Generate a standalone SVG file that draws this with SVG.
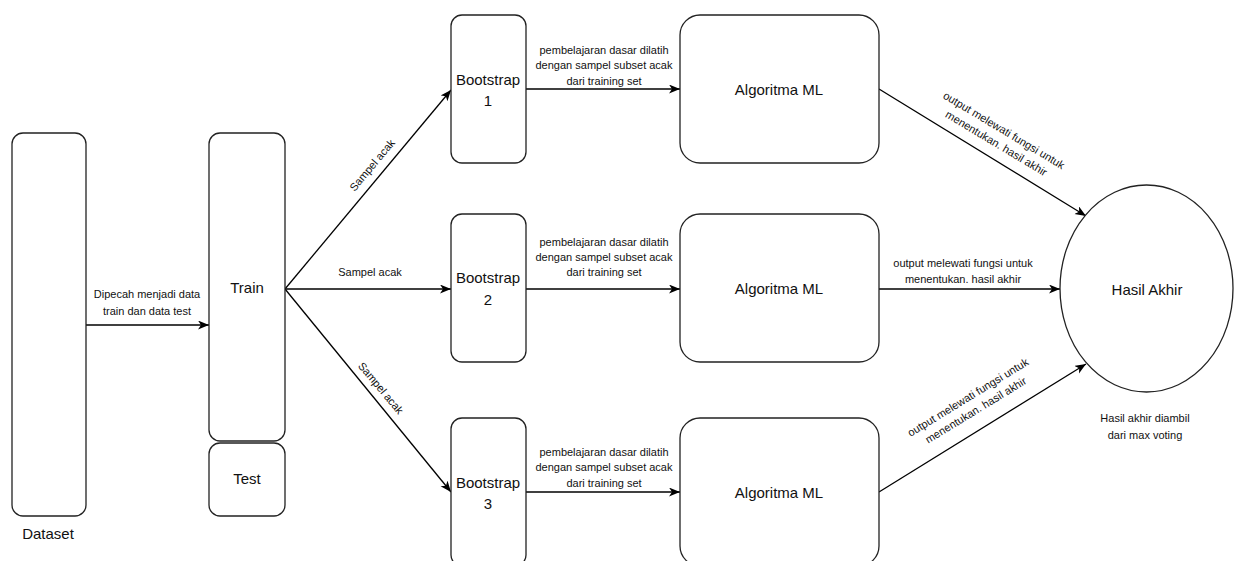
<svg xmlns="http://www.w3.org/2000/svg" width="1234" height="561" viewBox="0 0 1234 561">
<style>
.box{fill:#fff;stroke:#222;stroke-width:1.3}
.t{font-family:"Liberation Sans",Arial,sans-serif;fill:#111;text-anchor:middle;dominant-baseline:central}
.n{font-size:15px}
.e{font-size:11px}
.c{fill:none;stroke:#000;stroke-width:1.3;marker-end:url(#ar)}
</style>
<defs>
<marker id="ar" markerUnits="userSpaceOnUse" markerWidth="12" markerHeight="10" refX="11" refY="4.5" orient="auto">
<path d="M0,0 L11,4.5 L0,9 L3,4.5 Z" fill="#000"/>
</marker>
</defs>
<rect width="1234" height="561" fill="#fff"/>
<g id="connectors">
<line class="c" x1="86" y1="325" x2="209" y2="325"/>
<line class="c" x1="285" y1="289" x2="451" y2="90"/>
<line class="c" x1="285" y1="289" x2="451" y2="289"/>
<line class="c" x1="285" y1="289" x2="451" y2="492"/>
<line class="c" x1="526" y1="89" x2="680" y2="89"/>
<line class="c" x1="526" y1="289" x2="680" y2="289"/>
<line class="c" x1="526" y1="492" x2="680" y2="492"/>
<line class="c" x1="879" y1="89" x2="1086" y2="216"/>
<line class="c" x1="879" y1="289" x2="1060" y2="289"/>
<line class="c" x1="879" y1="492" x2="1086" y2="364"/>
<text class="t e" x="147" y="294">Dipecah menjadi data</text>
<text class="t e" x="147" y="311">train dan data test</text>
<text class="t e" transform="translate(372,165) rotate(-50)">Sampel acak</text>
<text class="t e" x="370" y="272">Sampel acak</text>
<text class="t e" transform="translate(381,388) rotate(50)">Sampel acak</text>
<text class="t e" x="604" y="50">pembelajaran dasar dilatih</text>
<text class="t e" x="604" y="65">dengan sampel subset acak</text>
<text class="t e" x="604" y="81">dari training set</text>
<text class="t e" x="604" y="242">pembelajaran dasar dilatih</text>
<text class="t e" x="604" y="257">dengan sampel subset acak</text>
<text class="t e" x="604" y="272">dari training set</text>
<text class="t e" x="604" y="452">pembelajaran dasar dilatih</text>
<text class="t e" x="604" y="467">dengan sampel subset acak</text>
<text class="t e" x="604" y="483">dari training set</text>
<g transform="translate(1000,137) rotate(31)">
<text class="t e" x="0" y="-8">output melewati fungsi untuk</text>
<text class="t e" x="0" y="7">menentukan. hasil akhir</text>
</g>
<text class="t e" x="963" y="263">output melewati fungsi untuk</text>
<text class="t e" x="963" y="279">menentukan. hasil akhir</text>
<g transform="translate(972,404) rotate(-31.5)">
<text class="t e" x="0" y="-8">output melewati fungsi untuk</text>
<text class="t e" x="0" y="7">menentukan. hasil akhir</text>
</g>
</g>
<g id="dataset">
<rect class="box" x="12" y="133" width="74" height="383" rx="11"/>
<text class="t n" x="48" y="533">Dataset</text>
</g>
<g id="train">
<rect class="box" x="209" y="133" width="76" height="308" rx="11"/>
<text class="t n" x="247" y="287">Train</text>
</g>
<g id="test">
<rect class="box" x="209" y="443" width="76" height="73" rx="11"/>
<text class="t n" x="247" y="478">Test</text>
</g>
<g id="bootstrap1">
<rect class="box" x="451" y="15" width="75" height="148" rx="11"/>
<text class="t n" x="488" y="79">Bootstrap</text>
<text class="t n" x="488" y="100">1</text>
</g>
<g id="bootstrap2">
<rect class="box" x="451" y="214" width="75" height="148" rx="11"/>
<text class="t n" x="488" y="277">Bootstrap</text>
<text class="t n" x="488" y="299">2</text>
</g>
<g id="bootstrap3">
<rect class="box" x="451" y="418" width="75" height="148" rx="11"/>
<text class="t n" x="488" y="482">Bootstrap</text>
<text class="t n" x="488" y="503">3</text>
</g>
<g id="alg1">
<rect class="box" x="680" y="15" width="199" height="148" rx="20"/>
<text class="t n" x="779" y="89">Algoritma ML</text>
</g>
<g id="alg2">
<rect class="box" x="680" y="214" width="199" height="148" rx="20"/>
<text class="t n" x="779" y="288">Algoritma ML</text>
</g>
<g id="alg3">
<rect class="box" x="680" y="418" width="199" height="148" rx="20"/>
<text class="t n" x="779" y="492">Algoritma ML</text>
</g>
<g id="hasil">
<ellipse class="box" cx="1146.5" cy="288.5" rx="86.5" ry="103.5"/>
<text class="t n" x="1147" y="289">Hasil Akhir</text>
<text class="t e" x="1145" y="418">Hasil akhir diambil</text>
<text class="t e" x="1145" y="435">dari max voting</text>
</g>
</svg>
